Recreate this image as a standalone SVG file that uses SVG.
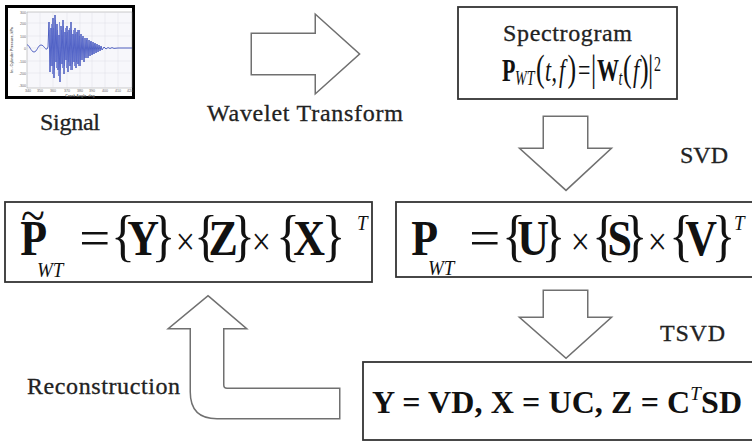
<svg xmlns="http://www.w3.org/2000/svg" width="752" height="444" viewBox="0 0 752 444">
<style>
.box{fill:#fff;stroke:#333;stroke-width:1.8px}
.lbl{font-family:"Liberation Serif","Times New Roman",serif;font-size:24px;fill:#222;stroke:#222;stroke-width:0.3px}
.m{font-family:"Liberation Serif","Times New Roman",serif;fill:#111}
.b{font-weight:bold}
.i{font-style:italic}
.tk{font-family:"Liberation Sans",Arial,sans-serif;font-size:3.6px;fill:#666}
.grid{stroke:#d8d8e4;stroke-width:0.4px}
</style>

<g id="signal">
<rect x="6.5" y="6.5" width="127" height="91" fill="#fff" stroke="#000" stroke-width="3"/>
<rect x="27" y="12" width="105" height="76" fill="#f7f7fb" stroke="#999" stroke-width="0.5"/>
<g class="grid">
<line x1="27" y1="23" x2="132" y2="23"/><line x1="27" y1="36" x2="132" y2="36"/><line x1="27" y1="48" x2="132" y2="48"/><line x1="27" y1="61" x2="132" y2="61"/><line x1="27" y1="73" x2="132" y2="73"/>
<line x1="40" y1="12" x2="40" y2="88"/><line x1="53" y1="12" x2="53" y2="88"/><line x1="67" y1="12" x2="67" y2="88"/><line x1="80" y1="12" x2="80" y2="88"/><line x1="92" y1="12" x2="92" y2="88"/><line x1="105" y1="12" x2="105" y2="88"/><line x1="118" y1="12" x2="118" y2="88"/>
</g>
<g class="tk" text-anchor="end">
<text x="26" y="13.5">300</text><text x="26" y="24.5">200</text><text x="26" y="37.5">100</text><text x="26" y="49.5">0</text><text x="26" y="62.5">-100</text><text x="26" y="74.5">-200</text><text x="26" y="86.5">-300</text>
</g>
<g class="tk" text-anchor="middle">
<text x="28" y="92">340</text><text x="40" y="92">350</text><text x="53" y="92">360</text><text x="67" y="92">370</text><text x="80" y="92">380</text><text x="92" y="92">390</text><text x="105" y="92">400</text><text x="118" y="92">410</text><text x="130" y="92">420</text>
<text x="80" y="96.5" font-weight="bold">Crank Angle, deg</text>
<text transform="translate(13,50) rotate(-90)" font-weight="bold">In - Cylinder Pressure, kPa</text>
</g>
<path fill="none" stroke="#2b3fb5" stroke-width="0.8" d="M27,45 C29,44 31,52 34,52 C37,52 38,45 41,45 C44,45 45,50 47,49 L48,47 49,22 50,72 51,28 52,66 53,18 54,78 55,15 56,62 57,24 58,70 59,35 60,82 61,26 62,64 63,20 64,74 65,32 66,60 67,26 68,72 69,30 70,66 71,22 72,70 73,34 74,62 75,28 76,68 77,32 78,64 79,30 80,66 81,34 82,60 83,36 84,62 85,38 86,58 87,38 88,58 89,40 90,56 91,41 92,55 93,42 94,54 95,43 96,53 97,44 98,52 99,45 100,51 101,46 102,50 104,47 106,49 108,47.5 110,48.5 112,47.6 114,48.4 118,48 132,48"/>
<path fill="none" stroke="#5566cc" stroke-width="0.5" d="M49.5,30 50.5,66 51.5,24 52.5,74 53.5,28 54.5,70 55.5,20 56.5,68 57.5,30 58.5,76 59.5,22 60.5,70 61.5,30 62.5,68 63.5,26 64.5,66 65.5,28 66.5,68 67.5,32 68.5,62 69.5,28 70.5,70 71.5,30 72.5,64 73.5,30 74.5,66 75.5,34 76.5,62 77.5,30 78.5,66 79.5,36 80.5,60 82.5,38 84.5,58 86.5,40 88.5,56 90.5,42 92.5,54 94.5,44 96.5,52"/>
<text class="lbl" x="40" y="130" font-size="23" textLength="60">Signal</text>
</g>

<g id="spectrogram">
<rect class="box" x="458" y="7" width="219" height="92"/>
<text class="lbl" x="503" y="41" textLength="129">Spectrogram</text>
<g transform="translate(0,81) scale(1,1.45)" class="m" font-size="22">
<text x="502" y="0" class="b">P</text>
<text x="515" y="3" class="i" font-size="14">WT</text>
<text x="536" y="0" font-size="26">(</text>
<text x="545" y="0" class="i">t</text>
<text x="551.5" y="0">,</text>
<text x="559" y="0" class="i">f</text>
<text x="567.5" y="0" font-size="26">)</text>
<text x="578" y="0">=</text>
<text x="591" y="0" font-size="26">|</text>
<text x="597" y="0" class="b">W</text>
<text x="618.5" y="3" class="i" font-size="14">t</text>
<text x="623" y="0" font-size="26">(</text>
<text x="633" y="0" class="i">f</text>
<text x="640" y="0" font-size="26">)</text>
<text x="648" y="0" font-size="26">|</text>
<text x="654" y="-7" font-size="14">2</text>
</g>
</g>

<g id="svd-result">
<rect class="box" x="396" y="202" width="370" height="75"/>
<g transform="translate(0,255) scale(1,1.15)" class="m" font-size="44">
<text x="411.3" y="0" class="b">P</text>
<text x="428" y="17.4" class="i" font-size="19">WT</text>
<text x="469.3" y="0" textLength="31" lengthAdjust="spacingAndGlyphs">=</text>
<text x="502" y="0" font-size="50">{</text>
<text x="517.3" y="0" class="b">U</text>
<text x="541.5" y="0" font-size="50">}</text>
<text x="570.7" y="0" font-size="34">×</text>
<text x="592" y="0" font-size="50">{</text>
<text x="607.5" y="0" class="b">S</text>
<text x="623.5" y="0" font-size="50">}</text>
<text x="647.7" y="0" font-size="34">×</text>
<text x="669" y="0" font-size="50">{</text>
<text x="685.3" y="0" class="b">V</text>
<text x="711.5" y="0" font-size="50">}</text>
<text x="734" y="-21.7" class="i" font-size="19">T</text>
</g>
</g>

<g id="reconstructed">
<rect class="box" x="5" y="202" width="367" height="80"/>
<g transform="translate(0,255) scale(1,1.15)" class="m" font-size="44">
<text x="20.3" y="0" class="b">P</text>
<text x="21" y="-20">~</text>
<text x="37" y="19" class="i" font-size="19">WT</text>
<text x="79.3" y="0" textLength="31" lengthAdjust="spacingAndGlyphs">=</text>
<text x="111" y="0" font-size="50">{</text>
<text x="127.3" y="0" class="b">Y</text>
<text x="151.5" y="0" font-size="50">}</text>
<text x="175.7" y="0" font-size="34">×</text>
<text x="194" y="0" font-size="50">{</text>
<text x="208.5" y="0" class="b">Z</text>
<text x="231" y="0" font-size="50">}</text>
<text x="251.7" y="0" font-size="34">×</text>
<text x="276" y="0" font-size="50">{</text>
<text x="293.3" y="0" class="b">X</text>
<text x="321.5" y="0" font-size="50">}</text>
<text x="357" y="-21.7" class="i" font-size="19">T</text>
</g>
</g>

<g id="tsvd-result">
<rect class="box" x="363" y="362" width="400" height="78"/>
<text class="m b" x="372" y="413" font-size="32" textLength="370">Y = VD, X = UC, Z = C<tspan class="i" font-weight="normal" font-size="19" dy="-13">T</tspan><tspan dy="13">SD</tspan></text>
</g>

<g id="connectors">
<g id="wavelet-arrow" stroke-linejoin="miter">
<path fill="#fff" stroke="#707070" stroke-width="5" d="M253,35 H317 V18 L357,54 L317,90 V73 H253 Z"/>
<path fill="#fff" stroke="#fff" stroke-width="2" d="M253,35 H317 V18 L357,54 L317,90 V73 H253 Z"/>
</g>
<text class="lbl" x="207" y="121" textLength="196">Wavelet Transform</text>
<g id="svd-arrow" stroke-linejoin="miter">
<path fill="#fff" stroke="#707070" stroke-width="5" d="M545,118 H586 V150 H607 L566,188 L524,150 H545 Z"/>
<path fill="#fff" stroke="#fff" stroke-width="2" d="M545,118 H586 V150 H607 L566,188 L524,150 H545 Z"/>
</g>
<text class="lbl" x="680" y="163" textLength="48">SVD</text>
<g id="tsvd-arrow" stroke-linejoin="miter">
<path fill="#fff" stroke="#707070" stroke-width="5" d="M545,292 H586 V319 H607 L566,356 L524,319 H545 Z"/>
<path fill="#fff" stroke="#fff" stroke-width="2" d="M545,292 H586 V319 H607 L566,356 L524,319 H545 Z"/>
</g>
<text class="lbl" x="660" y="341" textLength="65">TSVD</text>
<g id="reconstruction-arrow" stroke-linejoin="miter">
<path fill="#fff" stroke="#707070" stroke-width="5" d="M208,298 L242,327 H222 V385 Q222,390 227,390 H338 V417 H217 Q192,417 192,392 V327 H173 Z"/>
<path fill="#fff" stroke="#fff" stroke-width="2" d="M208,298 L242,327 H222 V385 Q222,390 227,390 H338 V417 H217 Q192,417 192,392 V327 H173 Z"/>
</g>
<text class="lbl" x="27" y="394" textLength="153">Reconstruction</text>
</g>
</svg>
